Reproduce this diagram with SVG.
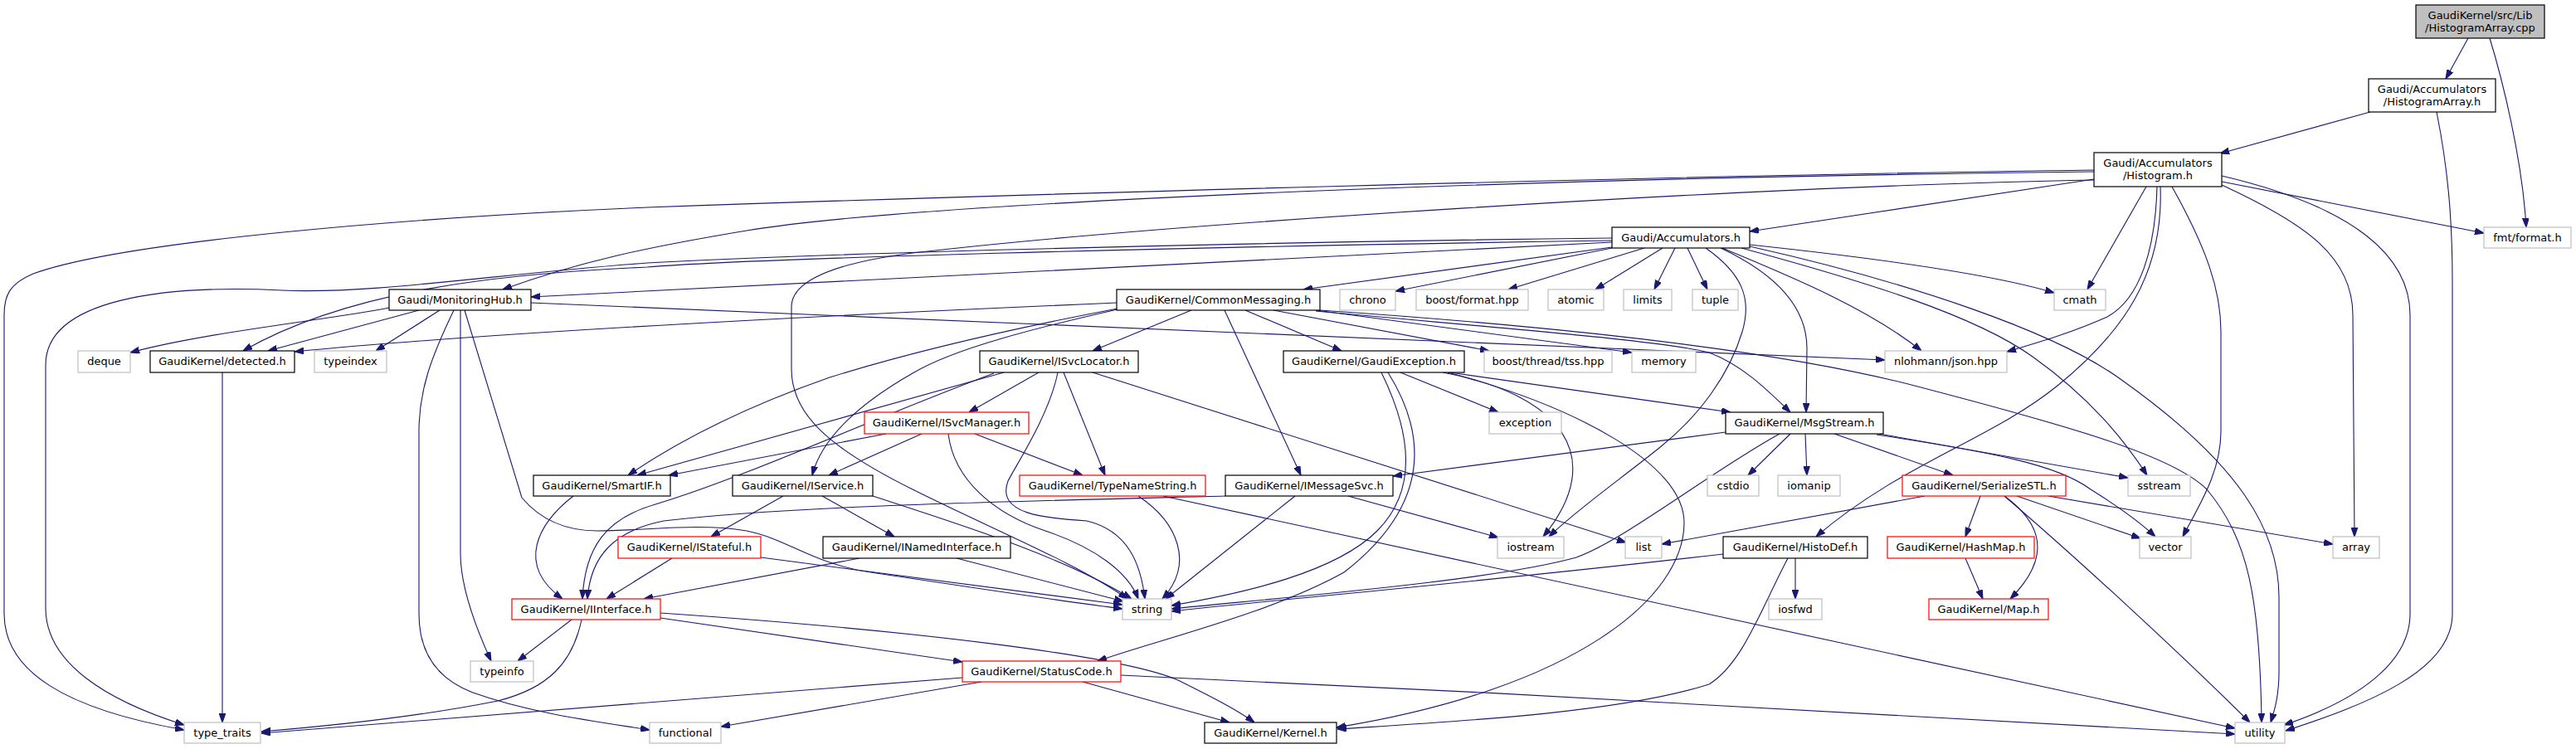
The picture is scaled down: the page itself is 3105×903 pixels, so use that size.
<svg xmlns="http://www.w3.org/2000/svg" width="3105" height="903" viewBox="0 0 3105 903">
<style>
rect{fill:#fff;stroke:#000;stroke-width:1.2}
.g rect{stroke:#bfbfbf}
.r rect{stroke:#ff0000}
.root rect{fill:#bfbfbf}
text{font-family:"DejaVu Sans","Liberation Sans",sans-serif;font-size:13px;text-anchor:middle;fill:#000}
#edges path{fill:none;stroke:#191970;stroke-width:1.1;marker-end:url(#a)}
</style>
<defs>
<marker id="a" viewBox="0 0 10 7" refX="10" refY="3.5" markerWidth="11" markerHeight="8" markerUnits="userSpaceOnUse" orient="auto"><path d="M0,0 L10,3.5 L0,7 z" fill="#191970" stroke="#191970"/></marker>
</defs>
<rect x="0" y="0" width="3105" height="903" style="fill:#fff;stroke:none"/>
<g id="edges">
<path d="M2975,46 L2948,95"/>
<path d="M3001,46 C3016,95 3040,190 3045,274"/>
<path d="M2857,135 L2676,185"/>
<path d="M2937,135 C2950,200 2956,260 2956,340 L2956,740 C2956,810 2850,850 2755,881"/>
<path d="M2678,219 L2994,281"/>
<path d="M2587,225 L2516,349"/>
<path d="M2600,225 C2598,300 2580,360 2540,382 C2500,400 2460,412 2419,424"/>
<path d="M2604,225 C2608,330 2560,400 2480,465 C2400,530 2290,560 2189,647"/>
<path d="M2618,225 C2660,300 2677,350 2677,400 L2677,520 C2677,570 2650,610 2631,647"/>
<path d="M2678,223 C2780,270 2836,310 2836,380 L2838,647"/>
<path d="M2678,212 C2840,250 2905,310 2905,380 L2905,740 C2905,800 2840,845 2753,874"/>
<path d="M2524,216 L2109,279"/>
<path d="M2524,205 C2000,212 1200,235 780,250 C500,262 150,290 40,330 C12,342 5,355 5,380 L5,740 C5,810 80,855 222,880"/>
<path d="M2524,207 C1800,215 1100,245 900,278 C780,298 700,315 606,349"/>
<path d="M2524,217 C2100,225 1400,270 1100,305 C1000,318 954,340 954,370 L954,445 C954,500 1000,540 1100,590 C1200,640 1300,680 1359,722"/>
<path d="M1943,298 L1571,349"/>
<path d="M1943,299 L1682,351"/>
<path d="M1982,299 L1818,349"/>
<path d="M2004,299 L1923,349"/>
<path d="M2019,299 L1994,349"/>
<path d="M2034,299 L2058,349"/>
<path d="M2056,299 C2100,330 2112,360 2100,400 C2085,450 2050,500 2000,540 C1950,580 1900,615 1867,647"/>
<path d="M2074,299 C2140,330 2178,370 2178,420 L2177,497"/>
<path d="M2076,299 C2150,330 2250,370 2316,423"/>
<path d="M2109,295 C2250,310 2400,330 2476,353"/>
<path d="M2099,299 C2250,340 2380,380 2450,430 C2520,480 2560,530 2588,573"/>
<path d="M2109,297 C2300,340 2480,400 2560,460 C2700,560 2747,640 2747,720 L2747,810 C2747,840 2741,858 2737,871"/>
<path d="M1943,287 C1500,292 1000,305 780,317 C600,330 450,355 340,350 C200,343 55,360 55,440 L55,733 C55,800 130,845 222,874"/>
<path d="M1943,290 C1400,298 900,312 780,322 C600,330 420,350 293,423"/>
<path d="M1943,292 L640,358"/>
<path d="M469,371 C400,385 250,400 157,425"/>
<path d="M505,374 L323,423"/>
<path d="M530,374 L453,423"/>
<path d="M547,374 C520,430 505,470 505,520 L505,740 C505,790 530,820 570,835 C640,860 720,870 783,880"/>
<path d="M555,374 L555,667 C555,710 575,760 592,797"/>
<path d="M560,374 L629,600 C650,625 680,640 720,640 C780,640 840,630 900,640 C950,650 980,680 1050,690 C1150,705 1280,725 1353,734"/>
<path d="M640,365 C1200,390 1800,410 2272,434"/>
<path d="M1346,365 C1000,380 600,400 355,424"/>
<path d="M1436,374 L1317,423"/>
<path d="M1347,372 C1200,400 1080,430 1000,455 C900,490 820,530 757,573"/>
<path d="M1347,373 C1250,395 1150,420 1100,450 C1030,490 990,530 979,573"/>
<path d="M1476,374 L1568,573"/>
<path d="M1501,374 L1617,423"/>
<path d="M1535,374 L1795,423"/>
<path d="M1586,374 L1967,425"/>
<path d="M1586,375 C1800,395 2000,410 2060,425 C2100,440 2130,470 2158,497"/>
<path d="M1591,374 C1900,395 2150,425 2300,463 C2500,515 2620,550 2660,590 C2710,650 2724,720 2726,871"/>
<path d="M1210,449 L768,573"/>
<path d="M1198,450 C1050,505 900,575 790,608 C730,625 705,660 702,722"/>
<path d="M1252,449 L1168,497"/>
<path d="M1275,449 C1265,500 1225,560 1215,580 C1200,620 1260,625 1310,628 C1360,640 1375,680 1380,722"/>
<path d="M1282,449 L1332,573"/>
<path d="M1317,449 L1960,654"/>
<path d="M1068,523 L806,573"/>
<path d="M1111,523 L999,573"/>
<path d="M1143,523 C1150,580 1200,620 1260,640 C1320,660 1360,690 1372,722"/>
<path d="M1175,523 L1305,573"/>
<path d="M944,598 L857,647"/>
<path d="M991,598 L1078,647"/>
<path d="M1052,598 C1150,630 1280,670 1364,722"/>
<path d="M810,673 L731,722"/>
<path d="M917,672 L1353,729"/>
<path d="M1036,673 L776,722"/>
<path d="M1153,673 L1354,725"/>
<path d="M1372,598 C1420,630 1440,680 1401,722"/>
<path d="M1402,598 L2694,878"/>
<path d="M1477,598 C1200,605 950,610 800,628 C740,640 712,670 708,722"/>
<path d="M1561,598 L1405,722"/>
<path d="M1625,598 L1806,648"/>
<path d="M1665,449 C1700,520 1710,590 1660,640 C1610,690 1500,715 1412,730"/>
<path d="M1673,449 C1730,540 1710,620 1620,690 C1530,740 1400,770 1323,797"/>
<path d="M1688,449 L1806,497"/>
<path d="M1739,449 C1880,475 1940,550 1860,647"/>
<path d="M1745,449 C1900,490 2030,560 2030,630 C2030,720 1900,830 1611,877"/>
<path d="M1747,449 L2086,497"/>
<path d="M2080,521 L1679,574"/>
<path d="M2145,523 C2060,570 1960,650 1900,672 C1800,700 1550,720 1412,734"/>
<path d="M2158,523 L2107,573"/>
<path d="M2176,523 L2178,573"/>
<path d="M2211,523 L2354,573"/>
<path d="M2265,523 L2565,576"/>
<path d="M2262,524 C2400,545 2480,560 2520,590 C2560,615 2580,630 2598,647"/>
<path d="M2320,598 L2003,656"/>
<path d="M2387,598 L2369,647"/>
<path d="M2416,598 C2460,630 2475,670 2423,722"/>
<path d="M2416,598 C2500,670 2620,780 2712,871"/>
<path d="M2431,598 L2580,649"/>
<path d="M2469,598 L2812,656"/>
<path d="M2369,673 L2390,722"/>
<path d="M2077,668 C1800,700 1550,722 1412,737"/>
<path d="M2164,673 L2164,722"/>
<path d="M2155,673 C2120,740 2100,800 2060,825 C1950,860 1750,870 1612,879"/>
<path d="M689,747 L624,797"/>
<path d="M701,747 C690,800 660,830 600,845 C500,865 400,875 315,882"/>
<path d="M796,745 L1160,798"/>
<path d="M796,739 C1100,760 1350,790 1420,820 C1460,840 1490,855 1512,871"/>
<path d="M1160,817 L315,884"/>
<path d="M1183,822 L869,876"/>
<path d="M1305,822 L1482,871"/>
<path d="M1351,814 C1800,835 2300,860 2694,885"/>
<path d="M691,598 C650,630 620,680 678,722"/>
<path d="M268,449 L268,871"/>
</g>
<g id="n_cpp" class="root"><rect x="2912" y="6" width="155" height="40"/><text x="2989.5" y="23">GaudiKernel/src/Lib</text><text x="2989.5" y="38">/HistogramArray.cpp</text></g>
<g id="n_ha"><rect x="2855" y="95" width="153" height="40"/><text x="2931.5" y="112">Gaudi/Accumulators</text><text x="2931.5" y="127">/HistogramArray.h</text></g>
<g id="n_hist"><rect x="2524" y="184" width="154" height="41"/><text x="2601" y="201">Gaudi/Accumulators</text><text x="2601" y="216">/Histogram.h</text></g>
<g id="n_fmt" class="g"><rect x="2994" y="274" width="105" height="25"/><text x="3046.5" y="291">fmt/format.h</text></g>
<g id="n_acc"><rect x="1943" y="274" width="166" height="25"/><text x="2026" y="291">Gaudi/Accumulators.h</text></g>
<g id="n_mon"><rect x="469" y="349" width="171" height="25"/><text x="554.5" y="366">Gaudi/MonitoringHub.h</text></g>
<g id="n_cm"><rect x="1346" y="349" width="245" height="25"/><text x="1468.5" y="366">GaudiKernel/CommonMessaging.h</text></g>
<g id="n_chrono" class="g"><rect x="1615" y="349" width="67" height="25"/><text x="1648.5" y="366">chrono</text></g>
<g id="n_bfmt" class="g"><rect x="1707" y="349" width="135" height="25"/><text x="1774.5" y="366">boost/format.hpp</text></g>
<g id="n_atomic" class="g"><rect x="1866" y="349" width="67" height="25"/><text x="1899.5" y="366">atomic</text></g>
<g id="n_limits" class="g"><rect x="1957" y="349" width="58" height="25"/><text x="1986" y="366">limits</text></g>
<g id="n_tuple" class="g"><rect x="2040" y="349" width="55" height="25"/><text x="2067.5" y="366">tuple</text></g>
<g id="n_cmath" class="g"><rect x="2476" y="349" width="62" height="25"/><text x="2507" y="366">cmath</text></g>
<g id="n_deque" class="g"><rect x="94" y="423" width="63" height="26"/><text x="125.5" y="440">deque</text></g>
<g id="n_det"><rect x="181" y="423" width="174" height="26"/><text x="268" y="440">GaudiKernel/detected.h</text></g>
<g id="n_tidx" class="g"><rect x="379" y="423" width="87" height="26"/><text x="422.5" y="440">typeindex</text></g>
<g id="n_svcloc"><rect x="1181" y="423" width="191" height="26"/><text x="1276.5" y="440">GaudiKernel/ISvcLocator.h</text></g>
<g id="n_gexc"><rect x="1547" y="423" width="218" height="26"/><text x="1656" y="440">GaudiKernel/GaudiException.h</text></g>
<g id="n_tss" class="g"><rect x="1789" y="423" width="154" height="26"/><text x="1866" y="440">boost/thread/tss.hpp</text></g>
<g id="n_mem" class="g"><rect x="1967" y="423" width="77" height="26"/><text x="2005.5" y="440">memory</text></g>
<g id="n_json" class="g"><rect x="2272" y="423" width="147" height="26"/><text x="2345.5" y="440">nlohmann/json.hpp</text></g>
<g id="n_svcmgr" class="r"><rect x="1042" y="497" width="198" height="26"/><text x="1141" y="514">GaudiKernel/ISvcManager.h</text></g>
<g id="n_exc" class="g"><rect x="1795" y="497" width="87" height="26"/><text x="1838.5" y="514">exception</text></g>
<g id="n_msg"><rect x="2080" y="497" width="190" height="26"/><text x="2175" y="514">GaudiKernel/MsgStream.h</text></g>
<g id="n_smart"><rect x="643" y="573" width="165" height="25"/><text x="725.5" y="590">GaudiKernel/SmartIF.h</text></g>
<g id="n_isvc"><rect x="883" y="573" width="169" height="25"/><text x="967.5" y="590">GaudiKernel/IService.h</text></g>
<g id="n_tns" class="r"><rect x="1229" y="573" width="224" height="25"/><text x="1341" y="590">GaudiKernel/TypeNameString.h</text></g>
<g id="n_imsg"><rect x="1477" y="573" width="202" height="25"/><text x="1578" y="590">GaudiKernel/IMessageSvc.h</text></g>
<g id="n_cstdio" class="g"><rect x="2058" y="573" width="62" height="25"/><text x="2089" y="590">cstdio</text></g>
<g id="n_iomanip" class="g"><rect x="2143" y="573" width="75" height="25"/><text x="2180.5" y="590">iomanip</text></g>
<g id="n_ser" class="r"><rect x="2293" y="573" width="197" height="25"/><text x="2391.5" y="590">GaudiKernel/SerializeSTL.h</text></g>
<g id="n_sstream" class="g"><rect x="2565" y="573" width="75" height="25"/><text x="2602.5" y="590">sstream</text></g>
<g id="n_istate" class="r"><rect x="745" y="647" width="172" height="26"/><text x="831" y="664">GaudiKernel/IStateful.h</text></g>
<g id="n_inamed"><rect x="992" y="647" width="226" height="26"/><text x="1105" y="664">GaudiKernel/INamedInterface.h</text></g>
<g id="n_iostream" class="g"><rect x="1805" y="647" width="80" height="26"/><text x="1845" y="664">iostream</text></g>
<g id="n_list" class="g"><rect x="1959" y="647" width="44" height="26"/><text x="1981" y="664">list</text></g>
<g id="n_hdef"><rect x="2077" y="647" width="174" height="26"/><text x="2164" y="664">GaudiKernel/HistoDef.h</text></g>
<g id="n_hash" class="r"><rect x="2275" y="647" width="177" height="26"/><text x="2363.5" y="664">GaudiKernel/HashMap.h</text></g>
<g id="n_vector" class="g"><rect x="2579" y="647" width="62" height="26"/><text x="2610" y="664">vector</text></g>
<g id="n_array" class="g"><rect x="2812" y="647" width="56" height="26"/><text x="2840" y="664">array</text></g>
<g id="n_iint" class="r"><rect x="617" y="722" width="179" height="25"/><text x="706.5" y="739">GaudiKernel/IInterface.h</text></g>
<g id="n_string" class="g"><rect x="1353" y="722" width="59" height="25"/><text x="1382.5" y="739">string</text></g>
<g id="n_iosfwd" class="g"><rect x="2132" y="722" width="64" height="25"/><text x="2164" y="739">iosfwd</text></g>
<g id="n_map" class="r"><rect x="2325" y="722" width="144" height="25"/><text x="2397" y="739">GaudiKernel/Map.h</text></g>
<g id="n_tinfo" class="g"><rect x="567" y="797" width="76" height="25"/><text x="605" y="814">typeinfo</text></g>
<g id="n_sc" class="r"><rect x="1160" y="797" width="191" height="25"/><text x="1255.5" y="814">GaudiKernel/StatusCode.h</text></g>
<g id="n_tt" class="g"><rect x="222" y="871" width="92" height="25"/><text x="268" y="888">type_traits</text></g>
<g id="n_func" class="g"><rect x="783" y="871" width="86" height="25"/><text x="826" y="888">functional</text></g>
<g id="n_kernel"><rect x="1452" y="871" width="159" height="25"/><text x="1531.5" y="888">GaudiKernel/Kernel.h</text></g>
<g id="n_util" class="g"><rect x="2694" y="871" width="60" height="25"/><text x="2724" y="888">utility</text></g>
</svg>
